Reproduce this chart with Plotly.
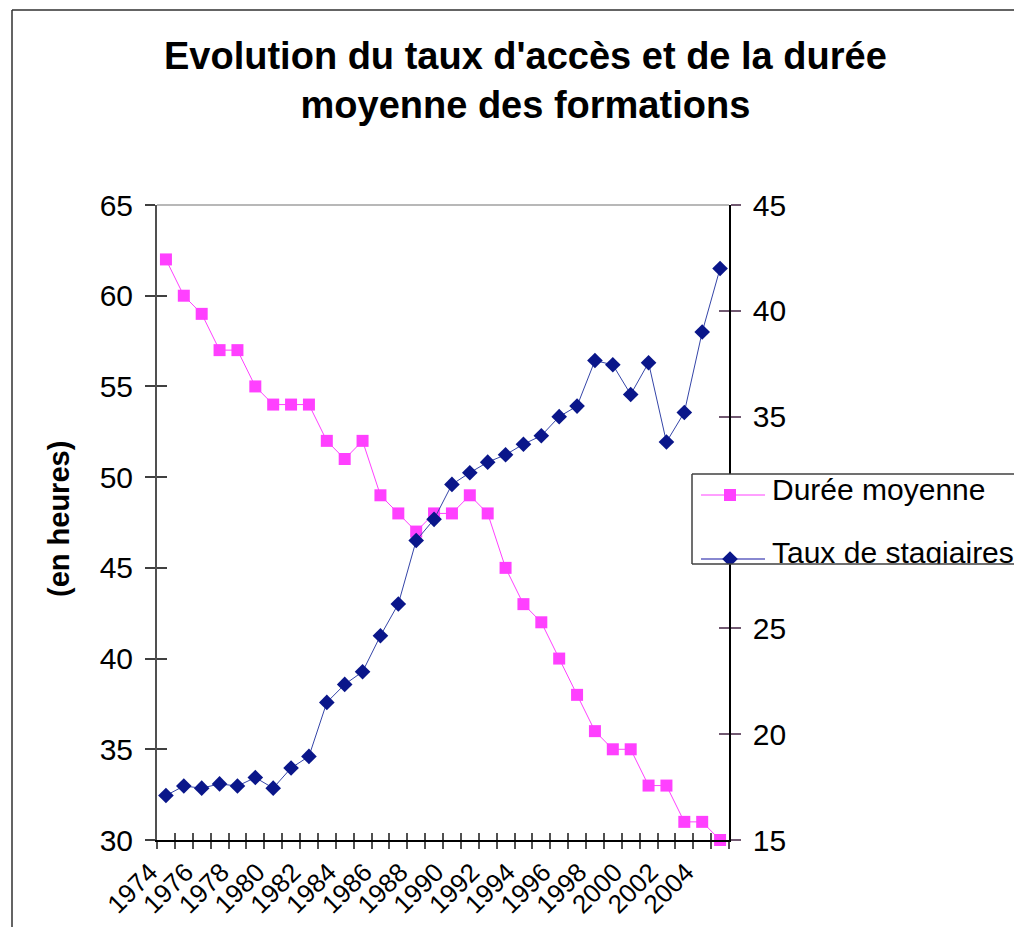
import plotly.graph_objects as go

# ---------------- data ----------------
years = list(range(1974, 2006))
duree_moyenne = [62, 60, 59, 57, 57, 55, 54, 54, 54, 52, 51, 52, 49, 48, 47, 48,
                 48, 49, 48, 45, 43, 42, 40, 38, 36, 35, 35, 33, 33, 31, 31, 30]
taux_stagiaires = [17.1, 17.55, 17.45, 17.65, 17.55, 17.95, 17.45, 18.4, 18.95, 21.5,
                   22.35, 22.95, 24.65, 26.15, 29.15, 30.15, 31.8, 32.35, 32.85, 33.2,
                   33.7, 34.1, 35.0, 35.5, 37.65, 37.45, 36.05, 37.55, 33.8, 35.2,
                   39.0, 42.0]
left_ticks = [30, 35, 40, 45, 50, 55, 60, 65]
right_ticks = [15, 20, 25, 30, 35, 40, 45]
label_years = years[::2]
series_names = ["Durée moyenne", "Taux de stagiaires"]
title_text = "Evolution du taux d'accès et de la durée<br>moyenne des formations"
ytitle_text = "(en heures)"

# ---------------- geometry ----------------
W, H = 1014, 927
def px_x(p):
    return p / W
def px_y(p):
    return (H - p) / H

PL, PR, PT, PB = 157, 729, 205, 840
xdom = [px_x(PL), px_x(PR)]
ydom = [px_y(PB), px_y(PT)]

FONT = "Liberation Sans, Arial, sans-serif"
PINK = "#FF40FF"
BLUE_M = "#0A168A"
BLUE_L = "#3545A8"

xr = [years[0] - 0.5, years[-1] + 0.5]
boundaries = [y - 0.5 for y in years] + [years[-1] + 0.5]

fig = go.Figure()

fig.add_trace(go.Scatter(
    x=years, y=duree_moyenne, name=series_names[0], mode="lines+markers",
    line=dict(color=PINK, width=1),
    marker=dict(symbol="square", size=12, color=PINK),
    xaxis="x", yaxis="y", cliponaxis=False, showlegend=False))
fig.add_trace(go.Scatter(
    x=years, y=taux_stagiaires, name=series_names[1], mode="lines+markers",
    line=dict(color=BLUE_L, width=1),
    marker=dict(symbol="diamond", size=12, color=BLUE_M),
    xaxis="x", yaxis="y2", cliponaxis=False, showlegend=False))

# dummy traces for the overlay (inside-tick) axes
for xa, ya in [("x2", "y"), ("x", "y3"), ("x", "y4")]:
    fig.add_trace(go.Scatter(x=[None], y=[None], xaxis=xa, yaxis=ya,
                             showlegend=False, hoverinfo="skip"))

# ---------------- custom legend subplot ----------------
LX0, LX1, LY0, LY1 = 692, 1014, 474, 564
lx = [0, LX1 - LX0]
ly = [0, LY1 - LY0]
def lgx(p):
    return p - LX0
def lgy(p):
    return LY1 - p

# white background for legend
fig.add_trace(go.Scatter(
    x=[lgx(LX0), lgx(LX0), lgx(1100), lgx(1100), lgx(LX0)],
    y=[lgy(LY0), lgy(LY1), lgy(LY1), lgy(LY0), lgy(LY0)],
    fill="toself", fillcolor="white", line=dict(width=0), mode="lines",
    xaxis="x5", yaxis="y5", showlegend=False, hoverinfo="skip"))
# legend sample lines
fig.add_trace(go.Scatter(
    x=[lgx(701), lgx(765)], y=[lgy(495), lgy(495)], mode="lines",
    line=dict(color=PINK, width=1), xaxis="x5", yaxis="y5",
    showlegend=False, hoverinfo="skip"))
fig.add_trace(go.Scatter(
    x=[lgx(730)], y=[lgy(495)], mode="markers",
    marker=dict(symbol="square", size=12, color=PINK), xaxis="x5", yaxis="y5",
    showlegend=False, hoverinfo="skip"))
fig.add_trace(go.Scatter(
    x=[lgx(701), lgx(765)], y=[lgy(559), lgy(559)], mode="lines",
    line=dict(color="#6060C0", width=1.5), xaxis="x5", yaxis="y5",
    showlegend=False, hoverinfo="skip"))
fig.add_trace(go.Scatter(
    x=[lgx(730)], y=[lgy(559)], mode="markers",
    marker=dict(symbol="diamond", size=12, color=BLUE_M), xaxis="x5", yaxis="y5",
    showlegend=False, hoverinfo="skip"))
fig.add_trace(go.Scatter(
    x=[lgx(772), lgx(772)], y=[lgy(492), lgy(555)], mode="text",
    text=series_names, textposition="middle right",
    textfont=dict(family=FONT, size=30, color="black"),
    xaxis="x5", yaxis="y5", showlegend=False, hoverinfo="skip"))

tickfont = dict(family=FONT, size=30, color="black")

fig.update_layout(
    width=W, height=H,
    margin=dict(l=0, r=0, t=0, b=0, autoexpand=False),
    paper_bgcolor="white", plot_bgcolor="white",
    showlegend=False,
    xaxis=dict(
        domain=xdom, anchor="y", range=xr, tickmode="array",
        tickvals=label_years, ticktext=[str(y) for y in label_years],
        ticks="", tickangle=-45, tickfont=dict(family=FONT, size=26, color="black"),
        showline=True, linecolor="black", linewidth=1.5, showgrid=False,
        zeroline=False, ticklabelstandoff=5, ticklabelshift=-16,
        minor=dict(tickvals=boundaries, ticks="outside", ticklen=7,
                   tickcolor="#505050", tickwidth=1.5, showgrid=False),
    ),
    xaxis2=dict(
        overlaying="x", anchor="y", domain=xdom, range=xr, side="bottom",
        tickmode="array", tickvals=boundaries, ticks="inside", ticklen=7,
        tickcolor="#505050", tickwidth=1.5, showticklabels=False,
        showline=False, showgrid=False, zeroline=False,
    ),
    yaxis=dict(
        domain=ydom, anchor="x", range=[30, 65], tickmode="array",
        tickvals=left_ticks, ticks="outside", ticklen=10, tickcolor="#404040",
        tickwidth=1.5, tickfont=tickfont, showline=True, linecolor="#505050",
        linewidth=2, showgrid=False, zeroline=False, ticklabelstandoff=6,
    ),
    yaxis3=dict(
        overlaying="y", anchor="x", side="left", range=[30, 65],
        tickmode="array", tickvals=left_ticks, ticks="inside", ticklen=10,
        tickcolor="#404040", tickwidth=1.5, showticklabels=False,
        showline=False, showgrid=False, zeroline=False,
    ),
    yaxis2=dict(
        overlaying="y", anchor="x", side="right", range=[15, 45],
        tickmode="array", tickvals=right_ticks, ticks="outside", ticklen=10,
        tickcolor="#705870", tickwidth=1.5, tickfont=tickfont, showline=True,
        linecolor="black", linewidth=1.5, showgrid=False, zeroline=False,
        ticklabelstandoff=6,
    ),
    yaxis4=dict(
        overlaying="y", anchor="x", side="right", range=[15, 45],
        tickmode="array", tickvals=right_ticks, ticks="inside", ticklen=10,
        tickcolor="#705870", tickwidth=1.5, showticklabels=False,
        showline=False, showgrid=False, zeroline=False,
    ),
    xaxis5=dict(
        domain=[px_x(LX0), 1.0], anchor="y5", range=lx, visible=False,
        fixedrange=True,
    ),
    yaxis5=dict(
        domain=[px_y(LY1), px_y(LY0)], anchor="x5", range=ly, visible=False,
        fixedrange=True,
    ),
)

# chart frame, top plot border and legend frame
frame = dict(color="#303030", width=1.5)
fig.add_shape(type="line", xref="paper", yref="paper",
              x0=px_x(12), x1=1.0, y0=px_y(10), y1=px_y(10), line=frame)
fig.add_shape(type="line", xref="paper", yref="paper",
              x0=px_x(12), x1=px_x(12), y0=px_y(10), y1=0.0, line=frame)
fig.add_shape(type="line", xref="paper", yref="paper",
              x0=xdom[0], x1=xdom[1], y0=ydom[1], y1=ydom[1],
              line=dict(color="#A0A0A0", width=1.5), layer="below")
leg = dict(color="#404040", width=1.5)
fig.add_shape(type="line", xref="paper", yref="paper",
              x0=px_x(LX0), x1=1.0, y0=px_y(LY0), y1=px_y(LY0), line=leg)
fig.add_shape(type="line", xref="paper", yref="paper",
              x0=px_x(LX0), x1=1.0, y0=px_y(LY1), y1=px_y(LY1), line=leg)
fig.add_shape(type="line", xref="paper", yref="paper",
              x0=px_x(LX0), x1=px_x(LX0), y0=px_y(LY0), y1=px_y(LY1), line=leg)

# title and axis title
fig.add_annotation(
    text=title_text, xref="paper", yref="paper", x=px_x(525), y=px_y(81),
    xanchor="center", yanchor="middle", showarrow=False, align="center",
    font=dict(family=FONT, size=38, color="black", weight="bold"))
fig.add_annotation(
    text=ytitle_text, xref="paper", yref="paper", x=px_x(59), y=px_y(519),
    xanchor="center", yanchor="middle", showarrow=False, textangle=-90,
    font=dict(family=FONT, size=29, color="black", weight="bold"))

fig.write_html(
    "out.html",
    config={"displayModeBar": False},
    post_script="document.body.style.margin='0px';"
                "document.body.style.overflow='hidden';")
